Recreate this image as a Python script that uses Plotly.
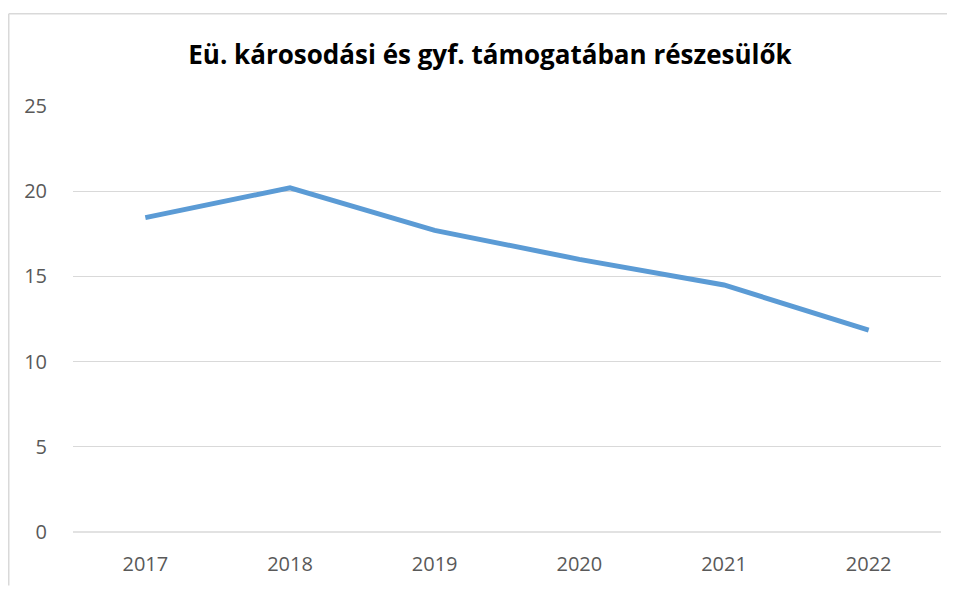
import plotly.graph_objects as go

years = ["2017", "2018", "2019", "2020", "2021", "2022"]
values = [18.45, 20.2, 17.7, 16.0, 14.5, 11.85]
y_ticks = [0, 5, 10, 15, 20, 25]

W, H = 947, 581
L, R, T, B = 65, 14, 98, 54
PW = W - L - R
PH = H - T - B

fig = go.Figure()
fig.add_trace(go.Scatter(
    x=years, y=values, mode="lines",
    line=dict(color="#5B9BD5", width=5),
    hoverinfo="x+y",
))

font_fam = "Open Sans, Liberation Sans, sans-serif"
border = dict(color="#D9D9D9", width=1.5)
fig.update_layout(
    width=W, height=H,
    margin=dict(l=L, r=R, t=T, b=B),
    paper_bgcolor="white", plot_bgcolor="white",
    showlegend=False,
    title=dict(
        text="<b>Eü. károsodási és gyf. támogatában részesülők</b>",
        x=482/W, xref="container", xanchor="center",
        y=1-47/H, yref="container", yanchor="middle",
        font=dict(family=font_fam, size=26, color="black"),
    ),
    xaxis=dict(
        type="category", range=[-0.5, 5.5],
        showgrid=False, zeroline=False, showline=False,
        ticks="", ticklabelstandoff=18,
        tickfont=dict(family=font_fam, size=20, color="#595959"),
    ),
    yaxis=dict(
        range=[0, 25], tickvals=y_ticks,
        showgrid=True, gridcolor="#D9D9D9", gridwidth=1.3,
        zeroline=False, showline=False, ticks="",
        ticklabelstandoff=25,
        tickfont=dict(family=font_fam, size=20, color="#595959"),
    ),
    shapes=[
        dict(type="line", xref="paper", yref="paper",
             x0=0, x1=1, y0=0, y1=0,
             line=dict(color="#D9D9D9", width=1.3), layer="below"),
        dict(type="line", xref="paper", yref="paper",
             x0=(0.75 - L) / PW, x1=(0.75 - L) / PW,
             y0=-B / PH, y1=1 + (T - 5) / PH,
             line=border, layer="below"),
        dict(type="line", xref="paper", yref="paper",
             x0=(0.75 - L) / PW, x1=(W - L) / PW,
             y0=1 + (T - 5) / PH, y1=1 + (T - 5) / PH,
             line=border, layer="below"),
    ],
)

fig.write_html("out.html")
